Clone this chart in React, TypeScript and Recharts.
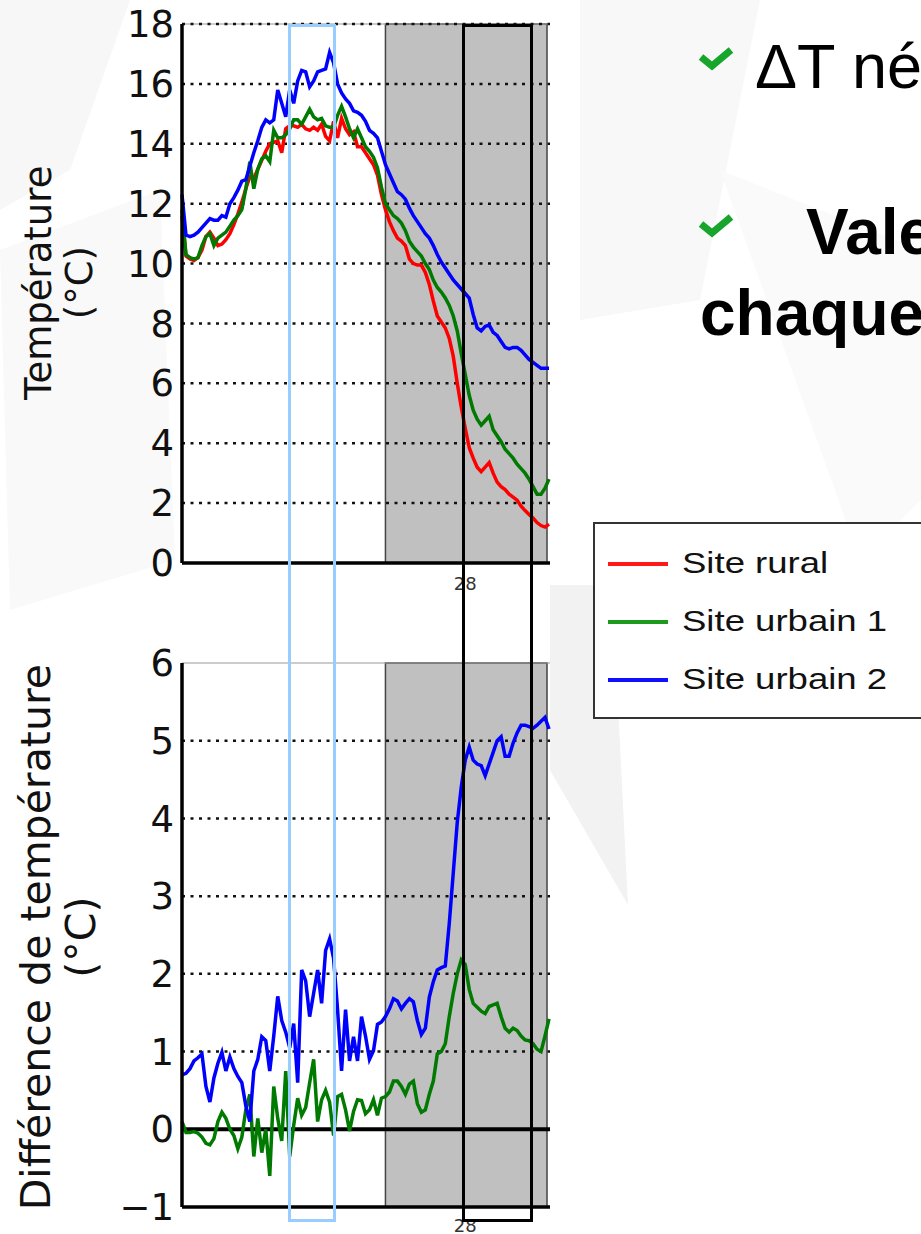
import React from "react";
import {
  LineChart,
  Line,
  XAxis,
  YAxis,
  CartesianGrid,
  ReferenceArea,
  ReferenceLine,
} from "recharts";

// one point every 20 min-ish, index 71 = midnight (day 28)
const rural = [
  11.6, 10.25, 10.15, 10.1, 10.2, 10.45, 10.9, 11.05, 10.85, 10.6,
  10.65, 10.8, 11.0, 11.3, 11.65, 12.05, 12.5, 12.9, 12.85, 13.15,
  13.45, 13.75, 14.0, 14.05, 14.1, 13.7, 14.5, 14.6, 14.6, 14.55,
  14.65, 14.5, 14.45, 14.55, 14.45, 14.65, 14.25, 14.1, 14.75, 14.2,
  14.85, 14.5, 14.3, 14.4, 13.9, 13.9, 13.7, 13.5, 13.3, 12.95,
  12.3, 11.8, 11.4, 11.1, 10.85, 10.75, 10.6, 10.15, 10.0, 9.95,
  9.95, 9.7, 9.3, 8.75, 8.25, 8.05, 7.85, 7.5, 6.9, 6.0,
  5.2, 4.5, 3.85, 3.5, 3.2, 3.05, 3.2, 3.35, 3.0, 2.7,
  2.55, 2.45, 2.3, 2.2, 2.1, 1.9, 1.75, 1.62, 1.5, 1.35,
  1.25, 1.2, 1.3,
];

const urbain1 = [
  11.8, 10.3, 10.2, 10.15, 10.2, 10.6, 10.9, 11.0, 10.6, 10.85,
  10.95, 11.05, 11.25, 11.45, 11.6, 11.8, 12.5, 13.4, 12.5, 13.15,
  13.5, 13.6, 13.4, 14.45, 14.2, 14.2, 14.3, 14.5, 14.8, 14.8,
  14.65, 14.9, 15.15, 14.9, 14.8, 14.85, 14.6, 14.55, 14.55, 14.95,
  15.25, 14.9, 14.5, 14.2, 14.5, 14.2, 13.9, 13.75, 13.55, 13.2,
  12.55, 12.0, 11.8, 11.6, 11.5, 11.35, 11.1, 10.75, 10.55, 10.4,
  10.25, 10.0, 9.8, 9.45, 9.2, 9.05, 8.85, 8.6, 8.25, 7.75,
  7.0, 6.3, 5.6, 5.1, 4.8, 4.6, 4.75, 4.9, 4.45, 4.25,
  4.05, 3.8, 3.65, 3.5, 3.3, 3.15, 3.0, 2.8, 2.55, 2.3,
  2.3, 2.5, 2.8,
];

const urbain2 = [
  12.3, 10.95, 10.9, 10.95, 11.05, 11.2, 11.35, 11.5, 11.45, 11.45,
  11.6, 11.55, 12.0, 12.2, 12.45, 12.75, 12.8, 13.25, 13.7, 14.1,
  14.55, 14.8, 14.7, 14.8, 15.8, 15.35, 14.9, 15.8, 15.35, 16.1,
  16.45, 16.4, 15.9, 16.1, 16.4, 16.45, 16.5, 17.05, 16.7, 16.0,
  15.7, 15.5, 15.35, 15.1, 15.05, 14.95, 14.75, 14.45, 14.35, 14.2,
  13.75, 13.3, 13.0, 12.7, 12.4, 12.3, 12.15, 11.85, 11.6, 11.4,
  11.2, 11.0, 10.85, 10.6, 10.3, 10.05, 9.85, 9.65, 9.45, 9.3,
  9.15, 9.0, 8.85, 8.3, 7.85, 7.75, 7.9, 7.95, 7.7, 7.6,
  7.4, 7.2, 7.15, 7.2, 7.2, 7.1, 6.95, 6.8, 6.7, 6.6,
  6.5, 6.5, 6.5,
];

// urbain - rural
const ecart1 = [
  0.1, -0.04, -0.04, -0.03, -0.05, -0.1, -0.18, -0.2, -0.12, 0.1,
  0.22, 0.14, 0.0, -0.08, -0.25, -0.1, 0.25, 0.45, -0.35, 0.14,
  -0.3, 0.0, -0.6, 0.55, 0.14, -0.15, 0.75, -0.35, 0.05, 0.4,
  0.18, 0.28, 0.6, 0.9, 0.1, 0.38, 0.5, 0.35, -0.08, 0.42,
  0.45, 0.25, -0.02, 0.23, 0.38, 0.37, 0.2, 0.25, 0.38, 0.18,
  0.4, 0.42, 0.48, 0.62, 0.62, 0.55, 0.45, 0.58, 0.62, 0.33,
  0.22, 0.25, 0.45, 0.62, 0.97, 1.0, 1.1, 1.45, 1.75, 2.0,
  2.18, 2.12, 1.8, 1.62, 1.57, 1.52, 1.49, 1.58, 1.6, 1.62,
  1.45, 1.3, 1.25, 1.3, 1.27, 1.2, 1.15, 1.14, 1.1, 1.03,
  1.0, 1.2, 1.42,
];

const ecart2 = [
  0.7, 0.72, 0.78, 0.88, 0.92, 0.97, 0.55, 0.35, 0.66, 0.85,
  0.99, 0.75, 0.93, 0.78, 0.68, 0.6, 0.3, 0.1, 0.75, 0.9,
  1.19, 1.14, 0.75, 1.2, 1.71, 1.4, 1.25, 1.05, 1.36, 0.6,
  2.05, 1.91, 1.45, 1.75, 2.05, 1.62, 2.3, 2.45, 2.2, 1.54,
  0.75, 1.54, 0.88, 1.19, 0.88, 1.45, 1.2, 0.9, 1.01, 1.35,
  1.38, 1.45, 1.55, 1.68, 1.65, 1.55, 1.62, 1.68, 1.64, 1.4,
  1.22, 1.3, 1.7, 1.9, 2.05, 2.08, 2.1, 2.65, 3.3, 3.95,
  4.4, 4.75, 4.92, 4.75, 4.7, 4.68, 4.55, 4.7, 4.85, 5.0,
  5.05, 4.8, 4.8, 4.97, 5.1, 5.2, 5.2, 5.18, 5.16, 5.2,
  5.25, 5.3, 5.15,
];

const tempTicks = [0, 2, 4, 6, 8, 10, 12, 14, 16, 18];
const diffTicks = [-1, 0, 1, 2, 3, 4, 5, 6];
const dayTick = 71; // "28"
const nightStart = 51;
const nightEnd = 91.5;

const data = rural.map((v, i) => ({
  i,
  rural: v,
  urbain1: urbain1[i],
  urbain2: urbain2[i],
  ecart1: ecart1[i],
  ecart2: ecart2[i],
}));

const RED = "#ff0000";
const GREEN = "#007a00";
const BLUE = "#0000ff";
const LW = 3.5;

const tickStyle = { fontSize: 37, fill: "#111", fontFamily: "DejaVu Sans" };
const dayStyle = { fontSize: 18, fill: "#333", fontFamily: "DejaVu Sans" };
const fmtTick = (v: number) => (v < 0 ? `\u2212${Math.abs(v)}` : `${v}`);

const dotted = (ticks: number[]) =>
  ticks.map((t) => (
    <ReferenceLine
      key={t}
      y={t}
      stroke="#111"
      strokeWidth={2.5}
      strokeDasharray="3 5.5"
    />
  ));

const TempChart = () => (
  <LineChart
    width={560}
    height={600}
    data={data}
    margin={{ top: 24, right: 10, bottom: 7, left: 0 }}
  >
    <CartesianGrid horizontal={false} vertical={false} fill="#fff" />
    <ReferenceArea
      x1={nightStart}
      x2={nightEnd}
      fill="#c0c0c0"
      fillOpacity={1}
      stroke="#444"
      strokeWidth={1.5}
    />
    <ReferenceLine y={18} stroke="#999" strokeWidth={1} />
    {dotted(tempTicks.slice(1))}
    <XAxis
      type="number"
      dataKey="i"
      domain={[0, 92.25]}
      ticks={[dayTick]}
      tickFormatter={() => "28"}
      tick={dayStyle}
      tickLine={false}
      tickSize={0}
      tickMargin={14}
      height={30}
      axisLine={{ stroke: "#000", strokeWidth: 3.5 }}
    />
    <YAxis
      domain={[0, 18]}
      ticks={tempTicks}
      tickFormatter={fmtTick}
      tick={tickStyle}
      tickLine={false}
      tickSize={0}
      tickMargin={8}
      width={182}
      axisLine={{ stroke: "#000", strokeWidth: 3.5 }}
    />
    <Line type="linear" dataKey="rural" stroke={RED} strokeWidth={LW} dot={false} isAnimationActive={false} />
    <Line type="linear" dataKey="urbain1" stroke={GREEN} strokeWidth={LW} dot={false} isAnimationActive={false} />
    <Line type="linear" dataKey="urbain2" stroke={BLUE} strokeWidth={LW} dot={false} isAnimationActive={false} />
  </LineChart>
);

const DiffChart = () => (
  <LineChart
    width={560}
    height={634}
    data={data}
    margin={{ top: 63, right: 10, bottom: 7, left: 0 }}
  >
    <CartesianGrid horizontal={false} vertical={false} fill="#fff" />
    <ReferenceArea
      x1={nightStart}
      x2={nightEnd}
      fill="#c0c0c0"
      fillOpacity={1}
      stroke="#444"
      strokeWidth={1.5}
    />
    <ReferenceLine y={6} stroke="#999" strokeWidth={1} />
    {dotted([1, 2, 3, 4, 5])}
    <ReferenceLine y={0} stroke="#000" strokeWidth={4} />
    <XAxis
      type="number"
      dataKey="i"
      domain={[0, 92.25]}
      ticks={[dayTick]}
      tickFormatter={() => "28"}
      tick={dayStyle}
      tickLine={false}
      tickSize={0}
      tickMargin={12}
      height={20}
      axisLine={{ stroke: "#000", strokeWidth: 3.5 }}
    />
    <YAxis
      domain={[-1, 6]}
      ticks={diffTicks}
      tickFormatter={fmtTick}
      tick={tickStyle}
      tickLine={false}
      tickSize={0}
      tickMargin={8}
      width={182}
      axisLine={{ stroke: "#000", strokeWidth: 3.5 }}
    />
    <Line type="linear" dataKey="ecart1" stroke={GREEN} strokeWidth={LW} dot={false} isAnimationActive={false} />
    <Line type="linear" dataKey="ecart2" stroke={BLUE} strokeWidth={LW} dot={false} isAnimationActive={false} />
  </LineChart>
);

const AxisTitle = ({
  lines,
  cx,
  cy,
  w,
  size,
}: {
  lines: string[];
  cx: number;
  cy: number;
  w: number;
  size: number;
}) => (
  <div
    style={{
      position: "absolute",
      left: cx - w / 2,
      top: cy - size * 1.1,
      width: w,
      height: size * 2.2,
      transform: "rotate(-90deg)",
      textAlign: "center",
      fontFamily: "DejaVu Sans",
      fontSize: size,
      lineHeight: `${size * 1.1}px`,
      color: "#111",
    }}
  >
    {lines.map((l) => (
      <div key={l}>{l}</div>
    ))}
  </div>
);

const legendItems = [
  { label: "Site rural", color: "#ff1a1a" },
  { label: "Site urbain 1", color: "#1d9a1d" },
  { label: "Site urbain 2", color: "#1010ff" },
];

const Legend = () => (
  <div
    style={{
      position: "absolute",
      left: 593,
      top: 522,
      width: 360,
      height: 197,
      boxSizing: "border-box",
      border: "2px solid #333",
      background: "#fff",
    }}
  >
    {legendItems.map((it, k) => (
      <div
        key={it.label}
        style={{ position: "absolute", left: 0, top: 20 + k * 58, height: 40, width: 360 }}
      >
        <div
          style={{
            position: "absolute",
            left: 13,
            top: 18,
            width: 60,
            height: 4,
            background: it.color,
          }}
        />
        <div
          style={{
            position: "absolute",
            left: 87,
            top: 0,
            fontFamily: "Liberation Sans",
            fontSize: 29,
            lineHeight: "38px",
            color: "#111",
            whiteSpace: "nowrap",
            transform: "scaleX(1.26)",
            transformOrigin: "left center",
          }}
        >
          {it.label}
        </div>
      </div>
    ))}
  </div>
);

const Check = ({ x, y }: { x: number; y: number }) => (
  <polyline
    points={`${x},${y} ${x + 11},${y + 9} ${x + 30},${y - 7}`}
    fill="none"
    stroke="#17a52b"
    strokeWidth={7}
    strokeLinejoin="miter"
  />
);

export default function App() {
  return (
    <div
      style={{
        position: "absolute",
        left: 0,
        top: 0,
        width: 921,
        height: 1234,
        overflow: "hidden",
        background: "#fff",
      }}
    >
      <svg width={921} height={1234} style={{ position: "absolute", left: 0, top: 0 }}>
        <polygon points="0,0 130,0 70,170 0,210" fill="#f7f7f7" />
        <polygon points="0,250 160,190 175,560 10,610" fill="#f9f9f9" />
        <polygon points="550,585 612,585 628,905 550,770" fill="#f2f2f2" />
        <polygon points="580,0 760,0 700,300 580,320" fill="#f8f8f8" />
        <polygon points="720,170 921,250 921,500 860,560" fill="#fafafa" />
      </svg>

      <div style={{ position: "absolute", left: 0, top: 0 }}>
        <TempChart />
      </div>
      <div style={{ position: "absolute", left: 0, top: 600 }}>
        <DiffChart />
      </div>

      <AxisTitle lines={["Température", "(°C)"]} cx={60} cy={283} w={420} size={37} />
      <AxisTitle lines={["Différence de température", "(°C)"]} cx={59} cy={937} w={660} size={41} />

      <div
        style={{
          position: "absolute",
          left: 288,
          top: 24,
          width: 48,
          height: 1198,
          boxSizing: "border-box",
          border: "3px solid #99ccff",
        }}
      />
      <div
        style={{
          position: "absolute",
          left: 462,
          top: 24,
          width: 71,
          height: 1198,
          boxSizing: "border-box",
          border: "3.5px solid #000",
        }}
      />

      <Legend />

      <svg width={921} height={1234} style={{ position: "absolute", left: 0, top: 0, pointerEvents: "none" }}>
        <Check x={701} y={57} />
        <text x={755} y={88} fontFamily="Liberation Sans" fontSize={63} fill="#000">
          ΔT né
        </text>
        <Check x={701} y={224} />
        <text x={806} y={254} fontFamily="Liberation Sans" fontSize={64} fontWeight="bold" fill="#000">
          Vale
        </text>
        <text x={700} y={335} fontFamily="Liberation Sans" fontSize={64} fontWeight="bold" fill="#000">
          chaque
        </text>
      </svg>
    </div>
  );
}
